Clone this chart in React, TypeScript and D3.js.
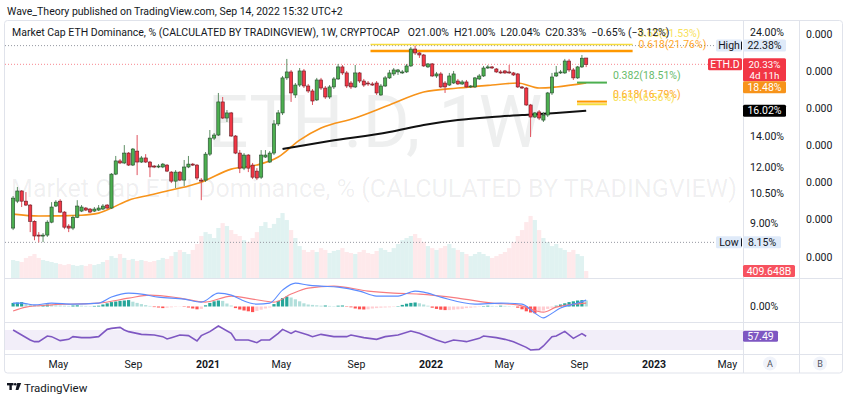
import React, { useEffect, useRef } from 'react'
import * as d3 from 'd3'

// weekly candles, the first one is the week of 17 Feb 2020
const firstWeek = '2020-02-17'

const opens = [
  8.77, 10.07, 10.61, 10.07, 9.87, 9.08, 8.46, 8.42, 8.46, 9.04,
  9.82, 10.07, 9.52, 8.86, 8.77, 9.27, 9.57, 9.72, 9.67, 9.57,
  9.62, 9.67, 9.87, 9.72, 11.57, 12.38, 12.25, 12.89, 12.12, 13.02,
  12.31, 12.57, 12.31, 12.06, 12.0, 12.0, 12.12, 11.69, 11.16, 11.69,
  11.22, 12.0, 12.18, 12.12, 11.22, 11.22, 12.82, 13.92, 14.14, 16.76,
  15.43, 15.84, 14.07, 12.89, 11.93, 12.76, 12.12, 11.75, 11.39, 12.63,
  12.31, 12.89, 14.97, 15.84, 18.96, 19.55, 17.37, 18.28, 19.65, 18.19,
  17.73, 16.93, 18.76, 18.0, 17.19, 18.1, 18.86, 20.06, 19.45, 18.47,
  18.1, 19.45, 18.66, 18.47, 18.38, 18.47, 17.37, 18.19, 18.96, 19.35,
  19.55, 19.45, 19.55, 20.16, 21.99, 21.55, 21.33, 20.06, 20.37, 19.15,
  19.35, 18.47, 18.28, 18.47, 18.66, 18.38, 18.57, 18.1, 18.1, 18.86,
  19.15, 19.95, 20.06, 19.85, 19.55, 19.65, 19.55, 19.45, 19.35, 18.1,
  18.0, 16.5, 15.51, 15.92, 15.27, 15.67, 17.55, 19.15, 19.45, 19.45,
  20.68, 19.75, 18.96, 20.06, 21.0,
]
const highs = [
  10.34, 10.83, 10.66, 10.55, 9.92, 9.13, 8.59, 8.55, 9.13, 10.02,
  10.12, 10.17, 9.57, 8.95, 9.37, 10.12, 9.87, 9.77, 9.72, 9.77,
  9.87, 9.92, 9.92, 11.63, 12.7, 12.5, 13.43, 12.96, 13.23, 14.14,
  12.7, 12.82, 12.38, 12.12, 12.18, 12.25, 12.18, 11.75, 11.81, 11.75,
  12.44, 12.7, 12.25, 12.18, 11.34, 12.96, 14.51, 14.29, 17.55, 17.19,
  16.08, 15.92, 14.14, 13.09, 12.89, 12.82, 12.25, 11.93, 13.09, 13.09,
  13.02, 15.27, 16.08, 19.15, 20.9, 19.75, 18.47, 19.95, 19.85, 18.38,
  17.91, 18.96, 18.96, 18.19, 18.28, 19.05, 20.37, 20.26, 19.65, 18.66,
  20.26, 19.55, 18.86, 18.66, 18.57, 18.66, 18.38, 19.15, 19.75, 19.95,
  19.85, 19.75, 20.37, 22.22, 22.38, 21.66, 21.44, 20.47, 20.47, 19.55,
  19.55, 18.66, 19.45, 19.65, 18.86, 18.76, 18.76, 18.28, 19.05, 19.35,
  20.16, 20.26, 20.16, 19.95, 19.75, 19.75, 20.26, 19.55, 19.45, 18.19,
  18.1, 16.59, 15.92, 16.08, 15.92, 17.64, 19.45, 20.16, 19.75, 20.9,
  20.9, 19.95, 20.16, 21.33, 21.0,
]
const lows = [
  8.68, 9.97, 9.77, 9.82, 8.59, 8.24, 8.15, 8.16, 8.38, 8.99,
  9.77, 9.47, 8.72, 8.59, 8.68, 9.23, 9.52, 9.57, 9.47, 9.52,
  9.57, 9.62, 9.67, 9.67, 11.51, 12.18, 12.18, 12.06, 12.06, 11.51,
  12.25, 12.25, 11.39, 11.93, 11.93, 11.93, 11.69, 11.05, 10.77, 11.16,
  10.88, 11.93, 12.06, 11.22, 10.12, 11.11, 12.7, 13.78, 14.07, 15.35,
  15.12, 14.0, 12.82, 11.63, 11.81, 11.69, 11.28, 11.22, 11.28, 12.57,
  12.25, 12.76, 14.81, 15.67, 18.76, 16.76, 17.11, 18.1, 18.0, 17.55,
  16.5, 16.84, 17.82, 17.02, 17.02, 17.91, 18.76, 19.25, 18.0, 17.91,
  18.0, 18.47, 18.1, 18.19, 18.19, 17.37, 17.28, 18.1, 18.86, 19.15,
  19.25, 19.35, 19.45, 20.06, 21.33, 21.01, 20.06, 19.95, 19.05, 18.96,
  18.0, 17.55, 18.19, 18.38, 18.28, 18.28, 18.0, 18.0, 18.0, 18.76,
  19.05, 19.85, 19.85, 19.45, 19.35, 19.35, 19.35, 19.15, 18.0, 17.91,
  16.42, 14.0, 15.43, 15.27, 15.12, 15.51, 17.37, 19.05, 19.35, 19.35,
  19.55, 18.76, 18.86, 19.95, 20.04,
]
const closes = [
  10.23, 10.61, 10.07, 9.87, 9.08, 8.42, 8.42, 8.46, 9.04, 9.77,
  10.02, 9.52, 8.81, 8.77, 9.27, 9.82, 9.77, 9.62, 9.52, 9.67,
  9.72, 9.82, 9.72, 11.57, 12.38, 12.25, 12.89, 12.12, 13.16, 12.31,
  12.57, 12.31, 12.0, 12.0, 12.06, 12.18, 11.75, 11.16, 11.69, 11.22,
  12.0, 12.18, 12.12, 11.34, 11.16, 12.82, 13.92, 14.14, 16.76, 15.43,
  15.84, 14.07, 12.89, 11.93, 12.76, 11.93, 11.39, 11.34, 12.76, 12.76,
  12.89, 14.97, 15.84, 18.96, 19.55, 17.55, 18.28, 19.65, 18.19, 17.73,
  16.84, 18.76, 18.0, 17.19, 18.1, 18.86, 20.06, 19.45, 18.19, 18.1,
  19.45, 18.66, 18.28, 18.38, 18.28, 17.55, 18.19, 18.96, 19.45, 19.75,
  19.75, 19.55, 20.16, 21.99, 21.55, 21.33, 20.16, 20.37, 19.15, 19.35,
  18.1, 18.1, 19.15, 19.35, 18.38, 18.57, 18.1, 18.19, 18.96, 19.15,
  19.95, 20.06, 19.95, 19.55, 19.45, 19.45, 19.45, 19.25, 18.1, 18.0,
  16.5, 15.51, 15.84, 15.43, 15.67, 17.55, 19.05, 19.45, 19.55, 20.68,
  19.75, 18.96, 20.06, 20.98, 20.33,
]
// volume, billions
const volumes = [
  1060, 1000, 940, 1180, 1290, 1410, 1180, 1060, 1000, 940,
  880, 820, 760, 820, 760, 710, 760, 710, 820, 760,
  820, 940, 1060, 1290, 1180, 1410, 1180, 1060, 1120, 1000,
  1060, 1000, 940, 1000, 1060, 1180, 1120, 1290, 1530, 1650,
  1530, 1410, 1650, 2000, 2470, 2700, 2590, 2350, 2940, 3230,
  3060, 2820, 2590, 2470, 2230, 2120, 2350, 2700, 3060, 3290,
  2940, 3180, 3530, 3820, 3410, 2820, 2350, 1880, 1650, 1530,
  1650, 1530, 1760, 1650, 1470, 1590, 1650, 1760, 1530, 1470,
  1410, 1530, 1650, 1470, 1410, 1590, 1760, 1650, 1530, 1760,
  2000, 2230, 2350, 2470, 2590, 2350, 2120, 1880, 1760, 1650,
  1760, 1880, 2000, 1760, 1650, 1530, 1410, 1290, 1410, 1530,
  1410, 1290, 1180, 1290, 1410, 1530, 1760, 2120, 2470, 2820,
  3290, 3650, 3410, 2820, 2350, 2120, 1880, 2000, 1760, 1650,
  1530, 1650, 1410, 1290, 409.648,
]

// moving averages (week index -> value)
const orangeWeeks = [0, 6, 16, 20, 23, 27, 32, 37, 44, 51, 57, 62, 67, 72, 80, 88, 96, 104, 112, 118, 123, 127, 134]
const orangeMa = [9.42, 9.33, 9.37, 9.47, 9.72, 10.12, 10.39, 10.66, 11.1, 11.87, 12.12, 12.63, 13.78, 14.66, 15.43, 16.5, 17.64, 18.0, 18.28, 18.47, 18.0, 18.1, 18.48]
const blackWeeks = [63, 74, 88, 96, 104, 112, 119, 127, 134]
const blackMa = [13.16, 13.71, 14.36, 14.89, 15.27, 15.51, 15.67, 15.83, 16.02]

// MACD pane
const macdWeeks = [0, 2, 5, 9, 14, 20, 23, 27, 30, 34, 40, 44, 48, 51, 53, 57, 60, 63, 66, 69, 72, 76, 81, 85, 90, 94, 96, 100, 108, 114, 119, 122, 124, 125, 128, 132, 134]
const macdLine = [0.17, 0.17, 0.08, 0.17, 0.12, 0.17, 0.47, 0.67, 0.62, 0.47, 0.37, 0.22, 0.67, 0.57, 0.37, 0.12, 0.17, 0.82, 1.17, 1.07, 1.02, 0.97, 0.77, 0.52, 0.52, 0.77, 0.72, 0.47, 0.12, 0.17, 0.12, -0.33, -0.57, -0.47, -0.08, 0.17, 0.32]
const signalWeeks = [0, 3, 9, 20, 27, 32, 39, 45, 51, 56, 61, 65, 69, 75, 83, 89, 95, 104, 112, 118, 124, 127, 134]
const signalLine = [-0.23, -0.03, 0.08, 0.17, 0.42, 0.57, 0.42, 0.22, 0.52, 0.37, 0.22, 0.62, 0.92, 1.02, 0.77, 0.67, 0.62, 0.42, 0.17, 0.08, -0.28, -0.03, 0.17]
const macdHist = [
  0.18, 0.2, 0.22, 0.16, 0.12, 0.08, 0.06, 0.08, 0.1, 0.08,
  0.06, 0.05, 0.04, 0.03, 0.05, 0.06, 0.04, 0.03, 0.02, 0.03,
  0.04, 0.1, 0.16, 0.22, 0.25, 0.28, 0.3, 0.32, 0.24, 0.18,
  0.12, 0.07, 0.03, -0.03, -0.05, -0.08, -0.06, -0.04, -0.02, -0.01,
  -0.02, -0.05, -0.1, -0.14, -0.12, 0.06, 0.18, 0.26, 0.3, 0.28,
  0.15, 0.05, -0.08, -0.15, -0.2, -0.24, -0.28, -0.22, -0.16, -0.1,
  -0.05, 0.12, 0.28, 0.42, 0.5, 0.45, 0.36, 0.26, 0.16, 0.1,
  0.08, 0.06, 0.04, 0.05, 0.03, 0.02, 0.04, 0.05, -0.02, -0.04,
  -0.1, -0.14, -0.15, -0.14, -0.1, -0.08, -0.06, -0.05, -0.04, -0.02,
  0.02, 0.08, 0.14, 0.18, 0.2, 0.16, 0.1, 0.04, -0.06, -0.12,
  -0.16, -0.18, -0.18, -0.16, -0.14, -0.12, -0.08, -0.06, -0.04, -0.02,
  0.02, 0.04, 0.03, 0.02, 0.04, 0.03, 0.02, 0.01, -0.06, -0.14,
  -0.24, -0.3, -0.34, -0.28, -0.2, -0.12, -0.06, 0.04, 0.1, 0.16,
  0.22, 0.26, 0.3, 0.32, 0.3,
]

// RSI pane
const rsiWeeks = [0, 2, 4, 5, 6, 8, 9, 11, 13, 14, 16, 18, 20, 22, 23, 25, 26, 27, 30, 33, 35, 36, 37, 39, 41, 43, 44, 46, 48, 51, 52, 55, 57, 58, 60, 62, 63, 65, 66, 69, 70, 72, 75, 78, 79, 82, 85, 87, 90, 93, 95, 96, 99, 101, 103, 105, 106, 109, 110, 113, 115, 117, 120, 121, 123, 124, 126, 127, 129, 131, 133, 134]
const rsiValues = [70, 60, 50, 46.7, 46.7, 58, 56.7, 48.7, 51.3, 56.7, 54.7, 54.7, 56.7, 71.3, 73.3, 75.3, 70, 66.7, 61.3, 60, 56.7, 52, 54.7, 60, 58.7, 48, 58.7, 66.7, 78, 63.3, 50, 50, 44.7, 50, 50, 63.3, 71.3, 63.3, 68, 60, 56.7, 61.3, 56.7, 56.7, 60, 54.7, 51.3, 56.7, 60, 68, 63.3, 60, 50, 44.7, 50, 48, 46.7, 53.3, 58, 54.7, 51.3, 46.7, 35.3, 30, 31.3, 38, 56.7, 58, 67.3, 53.3, 62.7, 57.49]

// fibonacci drawings
const fibLabels = ['0.65(21.53%)', '0.618(21.76%)', '0.382(18.51%)', '0.618(16.79%)', '0.65(16.56%)']
const fibLevels = [22.5, 21.76, 18.51, 16.79, 16.56]
const fibFrom = ['2021-09-24', '2021-09-24', '2022-08-28', '2022-08-28', '2022-08-28']
const fibTo = ['2022-11-27', '2022-11-27', '2022-10-16', '2022-10-16', '2022-10-16']

// axes
const priceTicks = [24, 14, 12, 10.5, 9]
const otherScaleTicks = [0.0004, 0.0003, 0.0002, 0.0001, 0, -0.0001, -0.0002]
const timeTicks = ['2020-05-01', '2020-09-01', '2021-01-01', '2021-05-01', '2021-09-01', '2022-01-01', '2022-05-01', '2022-09-01', '2023-01-01', '2023-05-01']
const timeLabels = ['May', 'Sep', '2021', 'May', 'Sep', '2022', 'May', 'Sep', '2023', 'May']

const W = 850
const H = 399

export default function App() {
  const svgRef = useRef<SVGSVGElement>(null)

  useEffect(() => {
    const svg = d3.select(svgRef.current)
    svg.selectAll('*').remove()
    svg.attr('width', W).attr('height', H)
      .style('font-family', 'Roboto, "Liberation Sans", Arial, sans-serif')
      .style('background', '#fff')
      .style('display', 'block')

    const t0 = Date.parse(firstWeek)
    const week = (i: number) => new Date(t0 + i * 7 * 864e5)

    const x = d3.scaleUtc().domain([new Date('2021-01-01'), new Date('2023-01-01')]).range([208, 654])
    const y = d3.scaleLog().domain([24, 12]).range([32, 167])
    const yVol = d3.scaleLinear().domain([0, 4000]).range([278, 210])
    const yMacd = d3.scaleLinear().domain([-0.7, 1.2]).range([320.5, 282.5])
    const yRsi = d3.scaleLinear().domain([30, 70]).range([350, 330])
    const yOther = d3.scaleLinear().domain([0.0004, -0.0002]).range([34, 257])

    const ink = '#131722'
    const grid = '#e0e3eb'
    const paneL = 5
    const paneR = 743

    // clip areas for the three panes
    const defs = svg.append('defs')
    const clip = (id: string, y0: number, y1: number) => {
      defs.append('clipPath').attr('id', id)
        .append('rect').attr('x', paneL).attr('y', y0).attr('width', paneR - paneL).attr('height', y1 - y0)
    }
    clip('c-main', 21, 278)
    clip('c-macd', 279, 322)
    clip('c-rsi', 323, 354)

    // header
    svg.append('text').attr('x', 7).attr('y', 14.5).attr('font-size', 10.5).attr('fill', ink)
      .text('Wave_Theory published on TradingView.com, Sep 14, 2022 15:32 UTC+2')

    // frame
    svg.append('rect').attr('x', 4.5).attr('y', 20.5).attr('width', 838).attr('height', 352.5)
      .attr('rx', 3).attr('fill', 'none').attr('stroke', grid)
    ;[743.5, 799.5].forEach(xx => {
      svg.append('line').attr('x1', xx).attr('x2', xx).attr('y1', 20.5).attr('y2', 373).attr('stroke', grid)
    })
    ;[278.5, 322.5, 354.5].forEach(yy => {
      svg.append('line').attr('x1', 4.5).attr('x2', 842.5).attr('y1', yy).attr('y2', yy).attr('stroke', grid)
    })

    const main = svg.append('g').attr('clip-path', 'url(#c-main)')

    // watermark
    const wm = 'rgba(19,23,34,0.07)'
    main.append('text').attr('x', 375).attr('y', 147).attr('text-anchor', 'middle')
      .attr('font-size', 72).attr('fill', wm).text('ETH.D, 1W')
    main.append('text').attr('x', 374).attr('y', 197).attr('text-anchor', 'middle')
      .attr('font-size', 25.7).attr('textLength', 726).attr('lengthAdjust', 'spacingAndGlyphs')
      .attr('fill', wm).text('Market Cap ETH Dominance, % (CALCULATED BY TRADINGVIEW)')

    // volume
    main.selectAll('.vol').data(volumes).join('rect')
      .attr('x', (d, i) => x(week(i)) - 2.1)
      .attr('width', 4.2)
      .attr('y', d => yVol(d))
      .attr('height', d => yVol(0) - yVol(d))
      .attr('fill', (d, i) => closes[i] >= opens[i] ? 'rgba(38,166,154,0.14)' : 'rgba(242,54,69,0.11)')

    // high / low / last price lines
    const hLine = (v: number, color: string) => {
      main.append('line').attr('x1', paneL).attr('x2', paneR).attr('y1', y(v)).attr('y2', y(v))
        .attr('stroke', color).attr('stroke-dasharray', '1,2')
    }
    hLine(d3.max(highs) as number, '#9598a1')
    hLine(d3.min(lows) as number, '#9598a1')
    hLine(closes[closes.length - 1], 'rgba(242,54,69,0.6)')

    // moving averages
    const maLine = d3.line<number>()
      .x(i => x(week(i)))
      .curve(d3.curveMonotoneX)
    main.append('path')
      .attr('d', maLine.y((d, k) => y(orangeMa[k]))(orangeWeeks))
      .attr('fill', 'none').attr('stroke', '#f7931a').attr('stroke-width', 1.6)
    main.append('path')
      .attr('d', maLine.y((d, k) => y(blackMa[k]))(blackWeeks))
      .attr('fill', 'none').attr('stroke', '#111').attr('stroke-width', 2)

    // fib levels
    const fibColors = ['#f7dc3c', '#ff9800', '#4caf50', '#ff9800', '#f7dc3c']
    const fibWidths = [1.5, 2.5, 2, 2, 2]
    const fibDy = [-11.5, -7, -7, -7, -7]
    fibLevels.forEach((v, k) => {
      const x1 = x(new Date(fibFrom[k]))
      const x2 = x(new Date(fibTo[k]))
      main.append('line').attr('x1', x1).attr('x2', x2).attr('y1', y(v)).attr('y2', y(v))
        .attr('stroke', fibColors[k]).attr('stroke-width', fibWidths[k])
      main.append('text').attr('x', x2 + 6).attr('y', y(v) + fibDy[k]).attr('dominant-baseline', 'central')
        .attr('font-size', 10.5).attr('fill', fibColors[k]).attr('opacity', 0.85).text(fibLabels[k])
    })

    // candles
    const up = (i: number) => closes[i] >= opens[i]
    const candles = main.append('g')
    candles.selectAll('line').data(opens).join('line')
      .attr('x1', (d, i) => x(week(i))).attr('x2', (d, i) => x(week(i)))
      .attr('y1', (d, i) => y(highs[i])).attr('y2', (d, i) => y(lows[i]))
      .attr('stroke', (d, i) => up(i) ? '#5f8f66' : '#e0525e').attr('stroke-width', 1)
    candles.selectAll('rect').data(opens).join('rect')
      .attr('x', (d, i) => x(week(i)) - 1.6)
      .attr('width', 3.2)
      .attr('y', (d, i) => Math.min(y(opens[i]), y(closes[i])))
      .attr('height', (d, i) => Math.max(1, Math.abs(y(opens[i]) - y(closes[i]))))
      .attr('fill', (d, i) => up(i) ? '#4caf50' : '#f23645')
      .attr('stroke', (d, i) => up(i) ? '#24452a' : '#5c1d24').attr('stroke-width', 0.6)

    // legend line
    const legend = svg.append('text').attr('x', 12).attr('y', 35.5).attr('font-size', 10.5).attr('fill', ink)
    legend.append('tspan').text('Market Cap ETH Dominance, % (CALCULATED BY TRADINGVIEW), 1W, CRYPTOCAP')
    ;['O21.00%', 'H21.00%', 'L20.04%', 'C20.33%', '\u22120.65% (\u22123.12%)'].forEach((s, k) => {
      legend.append('tspan').attr('dx', k === 0 ? 8 : 5).text(s)
    })

    // price scale
    const fmt = d3.format('.2f')
    priceTicks.forEach(v => {
      svg.append('text').attr('x', 750).attr('y', y(v)).attr('dominant-baseline', 'central')
        .attr('font-size', 10.5).attr('fill', ink).text(fmt(v) + '%')
    })
    const fmt3 = d3.format('.3f')
    otherScaleTicks.forEach(v => {
      svg.append('text').attr('x', 806).attr('y', yOther(v)).attr('dominant-baseline', 'central')
        .attr('font-size', 10.5).attr('fill', ink).text(fmt3(v))
    })

    const tag = (x0: number, top: number, w: number, h: number, fill: string, color: string, lines: string[]) => {
      svg.append('rect').attr('x', x0).attr('y', top).attr('width', w).attr('height', h).attr('rx', 1.5).attr('fill', fill)
      const step = h / lines.length
      lines.forEach((s, k) => {
        svg.append('text').attr('x', x0 + w / 2).attr('y', top + step / 2 + k * step).attr('dominant-baseline', 'central')
          .attr('text-anchor', 'middle').attr('font-size', lines.length > 1 ? 9.8 : 10.5).attr('fill', color).text(s)
      })
    }
    const blue = '#dfeaf9'
    const hi = d3.max(highs) as number
    const lo = d3.min(lows) as number
    const last = closes[closes.length - 1]
    tag(716, y(hi) - 6, 26, 12, blue, ink, ['High'])
    tag(743, y(hi) - 6, 43, 12, blue, ink, [fmt(hi) + '%'])
    tag(716, y(lo) - 6, 26, 12, blue, ink, ['Low'])
    tag(743, y(lo) - 6, 38, 12, blue, ink, [fmt(lo) + '%'])
    ;[y(hi), y(lo)].forEach(yy => {
      svg.append('line').attr('x1', 741.5).attr('x2', 741.5).attr('y1', yy - 4).attr('y2', yy + 4).attr('stroke', ink)
    })
    tag(708, y(last) - 6, 34, 12, '#f23645', '#fff', ['ETH.D'])
    tag(743, y(last) - 6, 43, 23, '#f23645', '#fff', [fmt(last) + '%', '4d 11h'])
    const orangeLast = orangeMa[orangeMa.length - 1]
    tag(743, Math.max(y(orangeLast) - 6, y(last) + 17), 43, 12, '#f7931a', '#fff', [fmt(orangeLast) + '%'])
    const blackLast = blackMa[blackMa.length - 1]
    tag(743, y(blackLast) - 6, 43, 12, '#000', '#fff', [fmt(blackLast) + '%'])
    const volLast = volumes[volumes.length - 1]
    tag(743, yVol(volLast) - 6, 52, 12, '#f7525f', '#fff', [d3.format('.3f')(volLast) + 'B'])

    // MACD pane
    const macd = svg.append('g').attr('clip-path', 'url(#c-macd)')
    macd.selectAll('rect').data(macdHist).join('rect')
      .attr('x', (d, i) => x(week(i)) - 1.6)
      .attr('width', 3.2)
      .attr('y', d => Math.min(yMacd(d), yMacd(0)))
      .attr('height', d => Math.abs(yMacd(d) - yMacd(0)))
      .attr('fill', (d, i) => {
        const prev = i > 0 ? macdHist[i - 1] : d
        if (d >= 0) return d >= prev ? '#26a69a' : '#b2dfdb'
        return d < prev ? '#ff5252' : '#ffcdd2'
      })
    const seriesLine = (weeks: number[], vals: number[], ys: d3.ScaleLinear<number, number>) =>
      d3.line<number>().x(i => x(week(i))).y((d, k) => ys(vals[k])).curve(d3.curveMonotoneX)(weeks)
    macd.append('path').attr('d', seriesLine(signalWeeks, signalLine, yMacd))
      .attr('fill', 'none').attr('stroke', '#f77c80').attr('stroke-width', 1.1)
    macd.append('path').attr('d', seriesLine(macdWeeks, macdLine, yMacd))
      .attr('fill', 'none').attr('stroke', '#5b8cff').attr('stroke-width', 1.1)
    svg.append('text').attr('x', 750).attr('y', yMacd(0)).attr('dominant-baseline', 'central')
      .attr('font-size', 10.5).attr('fill', ink).text('0.00%')

    // RSI pane
    const rsi = svg.append('g').attr('clip-path', 'url(#c-rsi)')
    rsi.append('rect').attr('x', paneL).attr('width', paneR - paneL)
      .attr('y', yRsi(70)).attr('height', yRsi(30) - yRsi(70)).attr('fill', 'rgba(126,87,194,0.1)')
    rsi.append('path')
      .attr('d', d3.line<number>().x(i => x(week(i))).y((d, k) => yRsi(rsiValues[k]))(rsiWeeks))
      .attr('fill', 'none').attr('stroke', '#7e57c2').attr('stroke-width', 1.6)
    const rsiLast = rsiValues[rsiValues.length - 1]
    tag(743, yRsi(rsiLast) - 5.5, 35, 11, '#7e57c2', '#fff', [fmt(rsiLast)])

    // time axis
    timeTicks.forEach((t, k) => {
      const isYear = /^\d{4}$/.test(timeLabels[k])
      svg.append('text').attr('x', x(new Date(t))).attr('y', 364).attr('dominant-baseline', 'central')
        .attr('text-anchor', 'middle').attr('font-size', 10.5)
        .attr('font-weight', isYear ? 700 : 400).attr('fill', ink).text(timeLabels[k])
    })
    ;[['A', 770], ['B', 820]].forEach(([s, cx]) => {
      svg.append('circle').attr('cx', cx).attr('cy', 363.5).attr('r', 7).attr('fill', '#f0f3fa')
      svg.append('text').attr('x', cx).attr('y', 364).attr('dominant-baseline', 'central')
        .attr('text-anchor', 'middle').attr('font-size', 9).attr('fill', '#50535e').text(s as string)
    })

    // TradingView mark
    const logo = svg.append('g').attr('fill', ink)
    logo.append('rect').attr('x', 7).attr('y', 383).attr('width', 6.5).attr('height', 2.4)
    logo.append('rect').attr('x', 9.4).attr('y', 383).attr('width', 2.4).attr('height', 7)
    logo.append('circle').attr('cx', 15.2).attr('cy', 384.3).attr('r', 1.3)
    logo.append('path').attr('d', 'M17.2,383 L21.2,383 L18.4,390 L15.6,390 Z')
    svg.append('text').attr('x', 24).attr('y', 387.5).attr('dominant-baseline', 'central')
      .attr('font-size', 11.5).attr('fill', ink).text('TradingView')
  }, [])

  return (
    <div style={{ position: 'absolute', left: 0, top: 0 }}>
      <svg ref={svgRef}></svg>
    </div>
  )
}
